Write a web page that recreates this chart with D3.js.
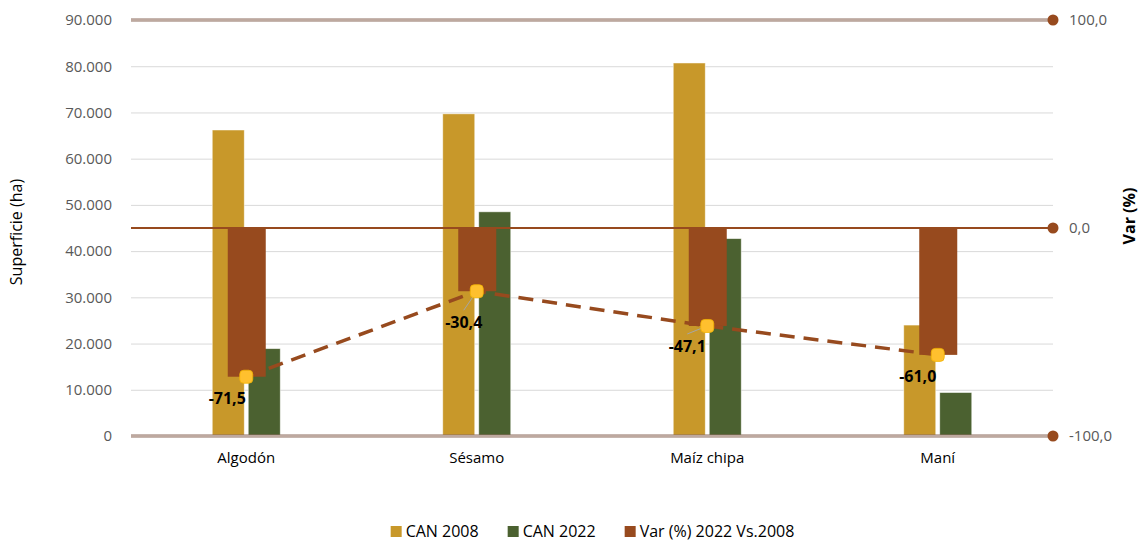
<!DOCTYPE html>
<html><head><meta charset="utf-8">
<script src="https://cdn.jsdelivr.net/npm/d3@7"></script>
<style>body{margin:0;background:#fff}svg{display:block;font-family:"Open Sans",sans-serif}</style>
</head><body><svg id="c" width="1147" height="543"></svg>
<script>
const categories = ["Algodón", "Sésamo", "Maíz chipa", "Maní"];
const can2008 = [66200, 69700, 80700, 24000];
const can2022 = [18900, 48500, 42700, 9400];
const varPct = [-71.5, -30.4, -47.1, -61.0];
const leftTicks = [0, 10000, 20000, 30000, 40000, 50000, 60000, 70000, 80000, 90000];
const rightTicks = [-100, 0, 100];
const seriesNames = ["CAN 2008", "CAN 2022", "Var (%) 2022 Vs.2008"];

const colors = {c08: "#C8982A", c22: "#4B6130", v: "#974A1E", marker: "#FFC02E"};
const labelOffsets = [[-19, 22, false], [-13, 31, true], [-20, 20, true], [-20, 22, false]];

const loc = d3.formatLocale({decimal: ",", thousands: ".", grouping: [3], currency: ["", ""], minus: "-"});
const fL = loc.format(",.0f"), fR = loc.format(",.1f");

const svg = d3.select("#c");
const L = 131, R = 1053, T = 20, B = 436;
const y0 = d3.scaleLinear().domain([0, 90000]).range([B, T]);
const y1 = d3.scaleLinear().domain([-100, 100]).range([B, T]);
const x0 = d3.scaleBand().domain(categories).range([L, R]).padding(0);
const x1 = d3.scaleBand().domain(["c08", "c22"]).range([-34, 34]).paddingInner(0.111);
const cx = c => x0(c) + x0.bandwidth() / 2;

// gridlines
const gl = svg.append("g").attr("transform", `translate(${L},0)`)
  .call(d3.axisLeft(y0).tickValues(leftTicks).tickSize(-(R - L)).tickFormat(""));
gl.select(".domain").remove();
gl.selectAll("line").attr("stroke", "#D9D9D9").attr("stroke-width", 1);

// left axis labels
const al = svg.append("g").attr("transform", `translate(${L},0)`)
  .call(d3.axisLeft(y0).tickValues(leftTicks).tickSize(0).tickPadding(19).tickFormat(fL));
al.select(".domain").remove();
al.selectAll("text").attr("fill", "#595959").style("font-size", "15px").style("font-family", "Open Sans");

// bars
const g = svg.append("g");
categories.forEach((c, i) => {
  g.append("rect").attr("x", cx(c) + x1("c08")).attr("width", x1.bandwidth())
    .attr("y", y0(can2008[i])).attr("height", y0(0) - y0(can2008[i]))
    .attr("fill", colors.c08).attr("stroke", "#fff").attr("stroke-opacity", 0.6).attr("stroke-width", 0.8);
  g.append("rect").attr("x", cx(c) + x1("c22")).attr("width", x1.bandwidth())
    .attr("y", y0(can2022[i])).attr("height", y0(0) - y0(can2022[i]))
    .attr("fill", colors.c22).attr("stroke", "#fff").attr("stroke-opacity", 0.6).attr("stroke-width", 0.8);
});
// var bars (secondary)
const vw = 38;
categories.forEach((c, i) => {
  g.append("rect").attr("x", cx(c) - vw / 2 + 0.5).attr("width", vw)
    .attr("y", y1(0)).attr("height", y1(varPct[i]) - y1(0))
    .attr("fill", colors.v);
});

// secondary axis lines
function dbl(v) {
  svg.append("line").attr("x1", L).attr("x2", R).attr("y1", y1(v)).attr("y2", y1(v))
    .attr("stroke", "#8E6E60").attr("stroke-width", 3);
  svg.append("line").attr("x1", L).attr("x2", R).attr("y1", y1(v)).attr("y2", y1(v))
    .attr("stroke", "#EDE3DE").attr("stroke-width", 1);
}
dbl(100); dbl(-100);
svg.append("line").attr("x1", L).attr("x2", R).attr("y1", y1(0)).attr("y2", y1(0))
  .attr("stroke", "#974A1E").attr("stroke-width", 2);
svg.append("g").selectAll("circle").data(rightTicks).join("circle")
  .attr("cx", R).attr("cy", d => y1(d)).attr("r", 5.5).attr("fill", colors.v);
const ar = svg.append("g").attr("transform", `translate(${R},0)`)
  .call(d3.axisRight(y1).tickValues(rightTicks).tickSize(0).tickPadding(16).tickFormat(fR));
ar.select(".domain").remove();
ar.selectAll("text").attr("fill", "#595959").style("font-size", "15px").style("font-family", "Open Sans");

// dashed line
const line = d3.line().x((d, i) => cx(categories[i])).y(d => y1(d));
svg.append("path").attr("d", line(varPct)).attr("fill", "none")
  .attr("stroke", colors.v).attr("stroke-width", 3.5).attr("stroke-dasharray", "15,9");

// leader lines + markers + labels
categories.forEach((c, i) => {
  const px = cx(c), py = y1(varPct[i]);
  const [dx, dy, lead] = labelOffsets[i];
  if (lead) svg.append("line").attr("x1", px).attr("y1", py).attr("x2", px + dx).attr("y2", py + dy - 12)
    .attr("stroke", "#A6A6A6").attr("stroke-width", 1);
  svg.append("rect").attr("x", px - 6.5).attr("y", py - 6.5).attr("width", 13).attr("height", 13)
    .attr("rx", 4).attr("fill", colors.marker).attr("stroke", "#F2B400").attr("stroke-width", 0.8);
  svg.append("text").attr("x", px + dx).attr("y", py + dy).attr("dy", "0.35em")
    .attr("text-anchor", "middle").style("font-size", "16px").style("font-weight", "bold")
    .attr("fill", "#000").text(fR(varPct[i]));
});

// category labels
svg.append("g").selectAll("text").data(categories).join("text")
  .attr("x", d => cx(d)).attr("y", 463).attr("text-anchor", "middle")
  .attr("fill", "#000").style("font-size", "15px").text(d => d);

// axis titles
svg.append("text").attr("transform", "translate(22,232) rotate(-90)").attr("text-anchor", "middle")
  .attr("fill", "#000").style("font-size", "16px").text("Superficie (ha)");
svg.append("text").attr("transform", "translate(1135,216) rotate(-90)").attr("text-anchor", "middle")
  .attr("fill", "#000").style("font-size", "16px").style("font-weight", "bold").text("Var (%)");

// legend
const lg = svg.append("g");
const legColors = [colors.c08, colors.c22, colors.v];
const gap = 29;
let xpos = 0;
seriesNames.forEach((n, i) => {
  const it = lg.append("g");
  it.append("rect").attr("x", 0).attr("y", -11).attr("width", 11).attr("height", 11).attr("fill", legColors[i]);
  const t = it.append("text").attr("x", 15).attr("y", 0).attr("fill", "#000").style("font-size", "16px").text(n);
  const w = 15 + t.node().getComputedTextLength();
  it.attr("transform", `translate(${xpos},0)`);
  xpos += w + gap;
});
const total = xpos - gap;
lg.attr("transform", `translate(${592.5 - total / 2},537)`);
</script></body></html>
